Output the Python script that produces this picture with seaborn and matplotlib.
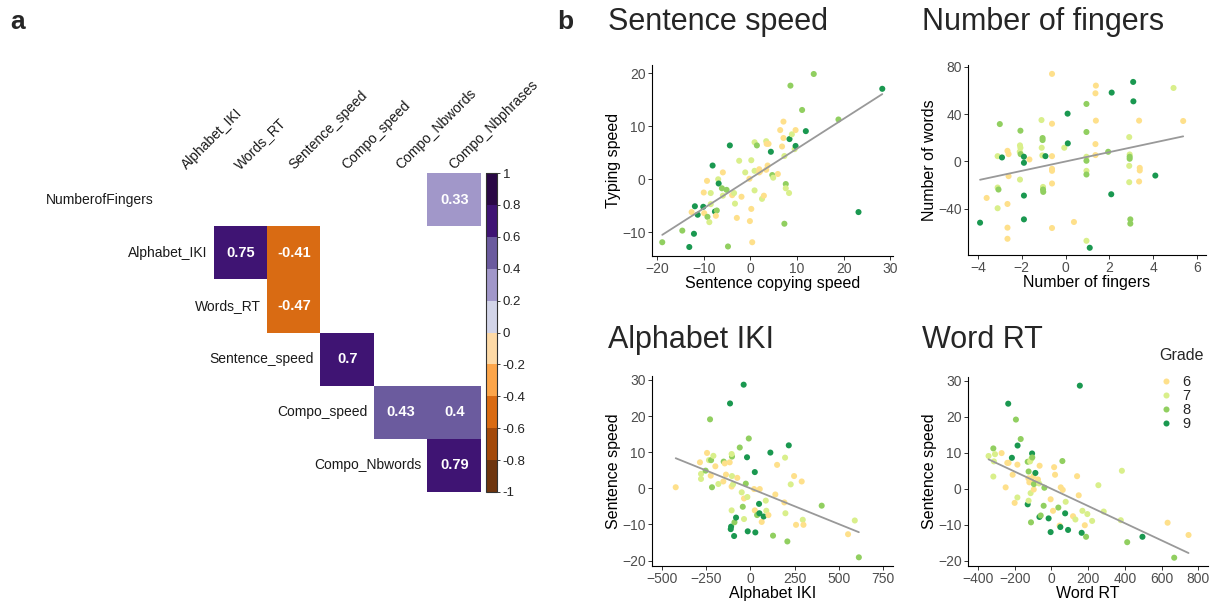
import numpy as np
import pandas as pd
import matplotlib
matplotlib.use("Agg")
import matplotlib.pyplot as plt
from matplotlib.colors import ListedColormap
import seaborn as sns

# ---- panel a: correlation matrix (only significant coefficients shown) ----
row_vars = ["NumberofFingers", "Alphabet_IKI", "Words_RT", "Sentence_speed",
            "Compo_speed", "Compo_Nbwords"]
col_vars = ["Alphabet_IKI", "Words_RT", "Sentence_speed", "Compo_speed",
            "Compo_Nbwords", "Compo_Nbphrases"]
nan = np.nan
corr_vals = [
    [nan, nan, nan, nan, nan, 0.33],
    [nan, 0.75, -0.41, nan, nan, nan],
    [nan, nan, -0.47, nan, nan, nan],
    [nan, nan, nan, 0.70, nan, nan],
    [nan, nan, nan, nan, 0.43, 0.40],
    [nan, nan, nan, nan, nan, 0.79],
]
cbar_ticks = [-1, -0.8, -0.6, -0.4, -0.2, 0, 0.2, 0.4, 0.6, 0.8, 1]

# ---- panel b: scatter data ----
grades = ["6", "7", "8", "9"]

x_sent = [-18.9, -14.6, -13.1, -12.1, -12.6, -11.9, -11.3, -10.1, -10.0, -9.9,
          -9.3, -9.2, -8.8, -8.5, -8.5, -8.1, -7.6, -7.2, -7.4, -6.9,
          -6.8, -6.1, -5.9, -5.9, -5.1, -4.8, -4.4, -3.9, -3.5, -3.3,
          -2.9, -2.4, -1.9, -1.1, -0.2, -0.1, 0.2, 0.2, 0.4, 0.9,
          0.9, 0.9, 1.4, 1.9, 1.9, 2.1, 2.5, 2.9, 3.4, 3.5,
          3.4, 3.7, 3.9, 4.4, 4.7, 4.9, 5.9, 6.4, 6.8, 7.1,
          7.1, 7.3, 7.3, 7.6, 7.6, 8.3, 8.4, 8.6, 8.9, 9.5,
          9.7, 9.7, 11.1, 11.9, 13.6, 18.9, 23.2, 28.3]
y_sent = [-11.9, -9.7, -12.8, -10.3, -6.2, -5.1, -6.7, -5.2, -2.5, -6.4,
          -0.3, -7.1, -8.1, -4.7, -2.6, 2.6, -6.1, -5.9, -6.9, 0.0,
          -0.8, -1.7, 1.3, -3.1, -2.0, -12.7, 6.4, -3.0, -2.6, -4.6,
          -7.3, 3.5, -3.3, 1.3, 0.1, -7.9, 3.6, -5.6, -11.9, 7.0,
          1.6, -2.1, 6.4, 1.9, 1.3, 1.5, -3.7, -3.1, 7.2, 6.7,
          1.8, 2.6, 6.7, 5.2, 0.8, 0.3, 1.0, 9.3, 6.2, 10.9,
          7.8, 4.4, -8.4, -0.9, -1.7, -2.6, 7.6, 17.7, 8.5, 5.7,
          9.3, 6.3, 13.1, 9.1, 19.9, 11.3, -6.2, 17.1]
g_sent = [8, 8, 9, 9, 6, 9, 9, 9, 6, 6, 6, 8, 7, 7, 7, 9, 9, 8, 6, 7,
          9, 8, 6, 7, 8, 8, 9, 6, 7, 7, 6, 7, 6, 7, 6, 6, 7, 6, 6, 7,
          7, 7, 8, 6, 6, 6, 7, 6, 7, 6, 6, 6, 6, 9, 8, 7, 6, 6, 6, 6,
          6, 7, 8, 8, 7, 7, 9, 8, 7, 7, 6, 9, 8, 9, 8, 8, 9, 9]

x_fing = [-3.9, -3.6, -3.1, -3.06, -3.1, -3.0, -3.1, -2.9, -2.65, -2.6,
          -2.6, -2.65, -2.65, -2.65, -2.06, -2.08, -2.06, -2.09, -2.05, -2.08,
          -1.9, -1.9, -1.9, -1.9, -1.65, -1.1, -1.05, -1.05, -1.09, -1.06,
          -1.03, -1.03, -1.02, -0.92, -0.62, -0.62, -0.62, -0.62, -0.62, -0.62,
          -0.62, -0.06, 0.09, 0.1, 0.38, 0.95, 0.95, 0.95, 0.95, 0.95,
          0.95, 0.95, 1.1, 1.38, 1.36, 1.38, 1.36, 1.36, 1.94, 2.1,
          2.08, 2.9, 2.92, 2.92, 2.92, 2.9, 2.9, 2.95, 2.95, 3.08,
          3.09, 3.35, 3.38, 3.38, 3.35, 4.09, 4.92, 5.36]
y_fing = [-51.7, -30.8, -22, -23.7, -39.5, 31.6, 4.5, 3.4, 9, 6.2,
          -12.4, -35.9, -55.9, -65.3, 26, 13.6, 11.6, 8.2, 6.2, -15.3,
          4, -1.1, -28.8, -48.9, 1.7, 35, 19.8, 18.1, 11.6, 5.1,
          -21.5, -23.7, -25.7, 4.5, 74, 31.9, 4.5, -6.2, -7.9, -18.6,
          -56.2, 11.6, 40.4, 15.3, -51.1, 48.6, 24.9, 4, 0.6, -7.9,
          -11, -67, -72.9, 64.1, 57.6, 34.5, 14.7, 5.4, 8.2, 58.2,
          -27.7, 20.6, 5.9, 4, 2.3, -3.7, -17.5, -48.9, -52.5, 67.2,
          50.8, 34.5, -5.4, -7.6, -16.9, -11.9, 62.1, 34.2]
g_fing = [9, 6, 7, 8, 7, 8, 7, 9, 6, 6, 6, 6, 6, 6, 8, 7, 7, 7, 8, 7,
          9, 9, 9, 9, 6, 7, 8, 8, 7, 7, 7, 8, 8, 9, 6, 6, 6, 6, 6, 6,
          6, 7, 9, 9, 6, 8, 8, 7, 8, 7, 8, 7, 9, 6, 6, 6, 6, 6, 8, 9,
          9, 7, 7, 8, 8, 7, 7, 8, 8, 9, 9, 6, 6, 6, 6, 9, 7, 6]

x_iki = [-422, -285, -279, -279, -253, -245, -234, -228, -224, -222,
         -217, -209, -198, -181, -153, -151, -145, -138, -117, -111,
         -115, -109, -106, -104, -106, -104, -106, -98, -92, -90,
         -81, -74, -60, -49, -43, -38, -36, -36, -26, -19,
         -17, -15, -9, 21, 25, 25, 28, 38, 49, 51,
         53, 64, 75, 87, 90, 102, 113, 128, 141, 151,
         192, 196, 198, 209, 217, 228, 247, 258, 290, 296,
         300, 403, 552, 590, 613]
y_iki = [0.3, 7.2, 4, 2.6, 4.9, 9.8, 7.8, 19.1, 3.5, 7.8,
         0.3, 9, 6.1, 1.2, 1.9, 7.4, 6.9, 3.8, 7.2, -11.3,
         23.5, -10.6, -6.1, 8.8, 9.5, 3.4, 0.5, 1.1, -13.2, -9.4,
         -8.1, 2.9, 11.3, -1.1, -5.1, 28.7, -2.8, -8.5, 1.3, 8.6,
         -2.4, -11.9, 13.8, -0.2, 4.5, -6.1, -12.2, -7.4, -4.3, -6.9,
         -0.2, -9.3, -7.8, -3.4, -6.2, -7.4, 9.9, -13.1, -1.7, 6.5,
         -3.9, 8.5, -6.9, -14.7, 11.9, 1.1, 3.4, -10.1, 1.9, -8.7,
         -10.1, -4.8, -12.7, -8.9, -19.1]
g_iki = [6, 6, 7, 7, 8, 6, 7, 8, 6, 8, 8, 7, 6, 7, 6, 8, 6, 6, 6, 9,
         9, 9, 7, 8, 7, 7, 6, 7, 9, 8, 9, 6, 8, 7, 8, 9, 6, 7, 8, 9,
         7, 9, 8, 6, 9, 6, 9, 8, 9, 9, 6, 6, 9, 7, 7, 6, 9, 8, 6, 6,
         6, 7, 7, 8, 9, 7, 6, 6, 6, 7, 6, 8, 6, 7, 8]

x_rt = [-342, -316, -316, -307, -313, -271, -249, -240, -235, -233,
        -215, -211, -200, -193, -185, -185, -184, -167, -129, -129,
        -124, -125, -124, -120, -116, -113, -111, -109, -105, -104,
        -109, -102, -98, -96, -95, -87, -73, -67, -64, -65,
        -58, -42, -38, -15, -4, -4, 9, 15, 20, 38,
        45, 49, 51, 60, 62, 75, 78, 91, 118, 131,
        140, 149, 155, 165, 169, 182, 189, 196, 222, 256,
        285, 378, 384, 413, 496, 633, 669, 747]
y_rt = [9.1, 11.2, 3.4, 9.6, 7.6, 9.9, 0.4, 7.2, 23.6, 7.2,
        8.6, 3.9, -3.9, 19.2, 6.7, -2.4, 12, 13.8, 7.5, -4.3,
        -3.3, 2.9, 4.8, 1.8, 7.6, -1.2, -9.3, 8.3, 9.8, 8.7,
        2.7, 1.8, 3.5, -0.2, 1.3, 4.4, 2.6, 1.5, 6.4, -7.8,
        -7.4, -4.7, 0.3, -8.2, -2.9, -12, -6.1, 6, 3.9, -5.2,
        -10.2, -10.6, 0.4, 7.7, -0.3, -6.8, -3.6, -11.4, -7.6, -8.5,
        3.5, -1.8, 28.6, -12.2, -6.1, -10.1, -13.3, -7, -8.9, 1,
        -6.3, -8.7, 5, -14.8, -13.3, -9.4, -19.1, -12.8]
g_rt = [7, 8, 7, 7, 7, 6, 6, 6, 9, 6, 9, 6, 6, 8, 6, 7, 9, 8, 8, 9,
        7, 6, 8, 6, 7, 7, 8, 7, 9, 8, 6, 6, 6, 6, 8, 9, 6, 7, 6, 9,
        8, 8, 8, 9, 6, 9, 6, 6, 6, 8, 6, 9, 6, 8, 6, 9, 7, 9, 6, 7,
        6, 6, 9, 9, 7, 6, 8, 7, 7, 7, 7, 7, 7, 8, 9, 6, 8, 6]

# ---- style ----
sns.set_theme(style="ticks")
plt.rcParams["font.family"] = ["Liberation Sans", "DejaVu Sans"]
plt.rcParams["axes.edgecolor"] = "black"
plt.rcParams["axes.linewidth"] = 0.8

corr_colors = ["#6e350f", "#a3490a", "#d96b13", "#fca54a", "#fdd9a6",
               "#d2d4e8", "#a197c9", "#6b5b9e", "#3f1473", "#2a0845"]
grade_colors = dict(zip(grades, ["#fee08b", "#d9ef8b", "#91cf60", "#1a9850"]))

W, H = 1213, 603
fig = plt.figure(figsize=(W / 100, H / 100), dpi=100)


def px_axes(left, top, right, bottom):
    return fig.add_axes([left / W, 1 - bottom / H, (right - left) / W, (bottom - top) / H])


# ---------------- panel a ----------------
corr_df = pd.DataFrame(corr_vals, index=row_vars, columns=col_vars)
annot = corr_df.map(lambda v: "" if pd.isna(v) else format(v, "g"))

axh = px_axes(160, 173, 481, 492)
cax = px_axes(486, 173, 497, 492)
sns.heatmap(corr_df, ax=axh, cbar_ax=cax, cmap=ListedColormap(corr_colors),
            vmin=-1, vmax=1, annot=annot.values, fmt="",
            annot_kws=dict(color="white", fontsize=10.5, fontweight="bold"),
            xticklabels=col_vars, yticklabels=False)
axh.xaxis.tick_top()
axh.set_xticks(np.arange(len(col_vars)) + 0.5)
axh.set_xticklabels(col_vars, rotation=45, ha="left", va="baseline",
                    rotation_mode="anchor", fontsize=10, color="#1a1a1a")
axh.tick_params(axis="x", length=0, pad=2.5)
axh.set_xlabel("")
axh.set_ylabel("")
for i, name in enumerate(row_vars):
    axh.text(i - 0.12, i + 0.5, name, ha="right", va="center", fontsize=10, color="#1a1a1a")

cbar = axh.collections[0].colorbar
cbar.set_ticks(cbar_ticks)
cbar.set_ticklabels([format(round(t, 1) + 0.0, "g") for t in cbar_ticks])
cbar.ax.tick_params(labelsize=9.5, length=2.5, width=0.6, pad=1.5, colors="#222222")
cbar.outline.set_linewidth(0.8)
cbar.outline.set_edgecolor("#333333")

# ---------------- panel b ----------------
def scatter_panel(ax, x, y, g, xlab, ylab, xticks, yticks, xlim, ylim, legend=False):
    df = pd.DataFrame({"x": x, "y": y, "Grade": [str(v) for v in g]})
    sns.scatterplot(data=df, x="x", y="y", hue="Grade", hue_order=grades,
                    palette=grade_colors, s=19, linewidth=0, ax=ax, legend=legend)
    sns.regplot(data=df, x="x", y="y", scatter=False, ci=None, color="#999999",
                line_kws={"lw": 1.3}, ax=ax)
    ax.set_xticks(xticks)
    ax.set_yticks(yticks)
    ax.set_xlim(xlim)
    ax.set_ylim(ylim)
    ax.set_xlabel(xlab, fontsize=11.5, color="black", labelpad=0)
    ax.set_ylabel(ylab, fontsize=11.5, color="black", labelpad=1)
    ax.tick_params(labelsize=10, labelcolor="#4d4d4d", color="#333333",
                   length=3, width=0.7, pad=1.5)
    sns.despine(ax=ax)


ax1 = px_axes(652, 65, 893, 256)
scatter_panel(ax1, x_sent, y_sent, g_sent, "Sentence copying speed", "Typing speed",
              [-20, -10, 0, 10, 20, 30], [-10, 0, 10, 20], (-21.1, 30.6), (-14.5, 21.6))

ax2 = px_axes(968, 65, 1206, 255)
scatter_panel(ax2, x_fing, y_fing, g_fing, "Number of fingers", "Number of words",
              [-4, -2, 0, 2, 4, 6], [-40, 0, 40, 80], (-4.45, 6.4), (-79, 81.5))

ax3 = px_axes(652, 376, 893, 566)
scatter_panel(ax3, x_iki, y_iki, g_iki, "Alphabet IKI", "Sentence speed",
              [-500, -250, 0, 250, 500, 750], [-20, -10, 0, 10, 20, 30],
              (-556, 806), (-21.5, 31.1))

ax4 = px_axes(968, 377, 1208, 566)
scatter_panel(ax4, x_rt, y_rt, g_rt, "Word RT", "Sentence speed",
              [-400, -200, 0, 200, 400, 600, 800], [-20, -10, 0, 10, 20, 30],
              (-454, 853), (-21.4, 31.0), legend=True)
sns.move_legend(ax4, "upper left", bbox_to_anchor=(1159 / W, 1 - 348 / H),
                bbox_transform=fig.transFigure, frameon=False, title="Grade",
                fontsize=10.5, title_fontsize=11.5, borderpad=0, borderaxespad=0,
                handlelength=1.0, handletextpad=0.6, labelspacing=0.0,
                alignment="left")
leg = ax4.get_legend()
leg._legend_box.sep = 9  # extra gap between the title and the entries

# titles and panel letters
fig.text(18 / W, 1 - 22 / H, "a", fontsize=19, fontweight="bold", ha="center", va="center")
fig.text(565 / W, 1 - 22 / H, "b", fontsize=19, fontweight="bold", ha="center", va="center")
fig.text(608 / W, 1 - 22 / H, "Sentence speed", fontsize=22, ha="left", va="center")
fig.text(922 / W, 1 - 22 / H, "Number of fingers", fontsize=22, ha="left", va="center")
fig.text(608 / W, 1 - 340 / H, "Alphabet IKI", fontsize=22, ha="left", va="center")
fig.text(922 / W, 1 - 340 / H, "Word RT", fontsize=22, ha="left", va="center")

fig.savefig("out.png", dpi=100)
